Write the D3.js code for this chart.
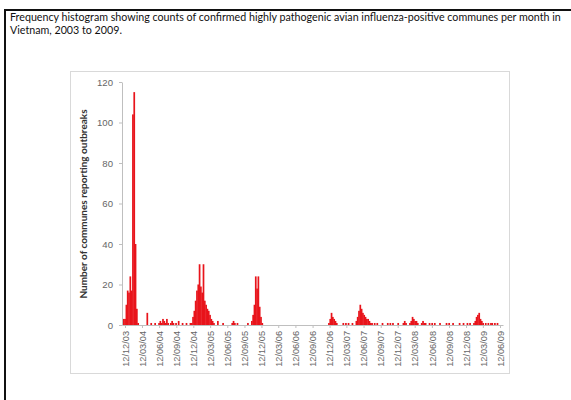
<!DOCTYPE html>
<html>
<head>
<meta charset="utf-8">
<script src="https://cdnjs.cloudflare.com/ajax/libs/d3/7.8.5/d3.min.js"></script>
<style>
  body { margin: 0; background: #fff; }
  svg { display: block; font-family: Lato, "Open Sans", sans-serif; }
</style>
</head>
<body>
<svg id="chart" width="571" height="400"></svg>
<script>
// weekly counts, consecutive weeks starting on firstWeek
const firstWeek = "2003-12-01";
const weeks2004 = [3, 3, 10, 17, 16, 24, 17, 104, 115, 40,
  8, 1, 0, 0, 0, 0, 0, 0, 6, 0,
  0, 1, 0, 0, 1, 0, 0, 1, 2, 1,
  3, 2, 1, 3, 1, 0, 1, 2, 1, 0,
  1, 0, 2, 0, 0, 1, 0, 0, 1, 0,
  0, 1];
const weeks2005 = [1, 4, 7, 12, 17, 20, 30, 19, 16, 30,
  12, 10, 8, 7, 5, 3, 2, 1, 0, 0,
  2, 0, 0, 0, 1, 0, 0, 0, 0, 0,
  0, 1, 2, 1, 0, 1, 0, 0, 0, 0,
  0, 0, 0, 1, 0, 0, 2, 5, 10, 24,
  18, 24];
const weeks2006 = [9, 4, 1, 0, 0, 0, 0, 0, 0, 0,
  0, 0, 0, 0, 0, 0, 0, 0, 0, 0,
  0, 0, 0, 0, 0, 0, 0, 0, 0, 0,
  0, 0, 0, 0, 0, 0, 0, 0, 0, 0,
  0, 0, 0, 0, 0, 0, 0, 0, 0, 0,
  0, 0];
const weeks2007 = [0, 1, 3, 6, 4, 3, 2, 1, 0, 0,
  0, 0, 1, 0, 1, 0, 1, 0, 0, 1,
  0, 0, 2, 4, 7, 10, 8, 6, 5, 4,
  3, 3, 2, 1, 1, 0, 1, 0, 1, 0,
  0, 0, 1, 0, 0, 0, 1, 0, 1, 0,
  1, 0];
const weeks2008 = [0, 0, 1, 0, 0, 0, 1, 2, 1, 0,
  0, 1, 2, 4, 3, 2, 2, 1, 0, 0,
  1, 2, 1, 1, 0, 0, 1, 0, 1, 0,
  1, 0, 0, 0, 1, 0, 0, 0, 0, 1,
  0, 1, 0, 0, 1, 0, 0, 0, 0, 1,
  0, 0];
const weeks2009 = [1, 0, 0, 1, 0, 1, 0, 0, 1, 2,
  4, 5, 6, 3, 2, 1, 0, 1, 0, 1,
  0, 1, 1, 0, 1, 0, 1, 0, 0, 0];

const xTickLabels = ["12/12/03", "12/03/04", "12/06/04", "12/09/04", "12/12/04",
  "12/03/05", "12/06/05", "12/09/05", "12/12/05", "12/03/06", "12/06/06",
  "12/09/06", "12/12/06", "12/03/07", "12/06/07", "12/09/07", "12/12/07",
  "12/03/08", "12/06/08", "12/09/08", "12/12/08", "12/03/09", "12/06/09"];
const yTicks = [0, 20, 40, 60, 80, 100, 120];

const titleLines = [
  "Frequency histogram showing counts of confirmed highly pathogenic avian influenza-positive communes per month in",
  "Vietnam, 2003 to 2009.",
];
const yTitle = "Number of communes reporting outbreaks";

const plotArea = { left: 122, right: 503, top: 82, bottom: 325 };
const barColor = "#e8141b";
const axisColor = "#bfbfbf";
const labelColor = "#666";

let svg = d3.select("#chart");
const parseIso = d3.timeParse("%Y-%m-%d");
const parseLabel = d3.timeParse("%d/%m/%y");

function buildWeeks() {
  const start = parseIso(firstWeek);
  const all = [].concat(weeks2004, weeks2005, weeks2006, weeks2007, weeks2008, weeks2009);
  return all.map((count, i) => ({
    date: d3.timeDay.offset(start, 7 * i),
    end: d3.timeDay.offset(start, 7 * i + 7),
    count: count,
  }));
}

const x = d3.scaleTime()
  .domain([parseIso("2003-11-26"), parseIso("2009-06-28")])
  .range([plotArea.left, plotArea.right]);

const y = d3.scaleLinear()
  .domain([0, 120])
  .range([plotArea.bottom, plotArea.top]);

function drawFrame() {
  // outer black frame (runs off the right and bottom of the picture)
  svg.append("rect")
    .attr("x", 5).attr("y", 10)
    .attr("width", 600).attr("height", 420)
    .attr("fill", "none")
    .attr("stroke", "#111")
    .attr("stroke-width", 2);

  // light chart box
  svg.append("rect")
    .attr("x", 70.5).attr("y", 71.5)
    .attr("width", 439).attr("height", 302)
    .attr("fill", "#fff")
    .attr("stroke", "#d9d9d9");
}

function drawTitle() {
  svg.append("g")
    .selectAll("text")
    .data(titleLines)
    .enter()
    .append("text")
    .attr("x", 10)
    .attr("y", (d, i) => 21 + i * 13)
    .style("font-size", "10.7px")
    .attr("fill", "#111")
    .text((d) => d);
}

function drawBars(data) {
  // bars overlap a little so the thin weekly bars read as one solid fill
  svg.append("g")
    .attr("class", "bars")
    .selectAll("rect")
    .data(data.filter((d) => d.count > 0))
    .enter()
    .append("rect")
    .attr("x", (d) => x(d.date))
    .attr("width", (d) => x(d.end) - x(d.date) + 0.4)
    .attr("y", (d) => y(d.count))
    .attr("height", (d) => y(0) - y(d.count))
    .attr("fill", barColor);
}

function drawAxes() {
  const gy = svg.append("g")
    .attr("transform", "translate(" + plotArea.left + ",0)")
    .call(d3.axisLeft(y).tickValues(yTicks).tickSize(3).tickSizeOuter(0).tickPadding(6));
  gy.selectAll("path, line").attr("stroke", axisColor);
  gy.selectAll("text")
    .attr("fill", labelColor)
    .style("font-size", "9.6px");

  const gx = svg.append("g")
    .attr("transform", "translate(0," + plotArea.bottom + ")")
    .call(d3.axisBottom(x)
      .tickValues(xTickLabels.map(parseLabel))
      .tickFormat(d3.timeFormat("%d/%m/%y"))
      .tickSize(3)
      .tickSizeOuter(0));
  gx.selectAll("path, line").attr("stroke", axisColor);
  gx.selectAll("text")
    .attr("transform", "rotate(-90)")
    .attr("text-anchor", "end")
    .attr("x", -6)
    .attr("y", 0)
    .attr("dy", "0.35em")
    .attr("fill", labelColor)
    .style("font-size", "9.2px");

  svg.append("text")
    .attr("transform", "translate(87,204) rotate(-90)")
    .attr("text-anchor", "middle")
    .style("font-size", "10px")
    .style("font-weight", "bold")
    .attr("fill", "#333")
    .text(yTitle);
}

drawFrame();
drawTitle();
drawBars(buildWeeks());
drawAxes();
</script>
</body>
</html>
